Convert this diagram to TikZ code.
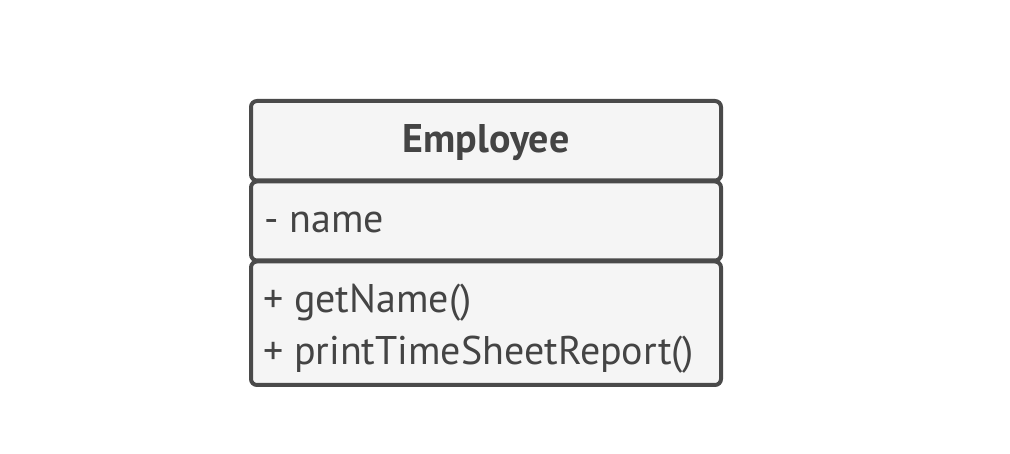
\documentclass[tikz,border=0pt]{standalone}
\usepackage{fontspec}
\setmainfont{PT Sans}
\definecolor{stroke}{HTML}{4A4A4A}
\definecolor{boxfill}{HTML}{F5F5F5}
\definecolor{txt}{HTML}{444444}
\begin{document}
\begin{tikzpicture}[x=1pt,y=-1pt,
  comp/.style={draw=stroke,fill=boxfill,line width=4pt,rounded corners=6pt},
  lbl/.style={inner sep=0pt,text=txt,font=\fontsize{40}{48}\selectfont}]
\useasboundingbox[fill=white] (0,0) rectangle (1010,454);
\draw[comp] (251,101) rectangle (721,180.5);
\draw[comp] (251,181.5) rectangle (721,260.5);
\draw[comp] (251,261.5) rectangle (721,385);
\node[lbl,anchor=base,font=\fontsize{40}{48}\selectfont\bfseries] (title) at (486,153) {Employee};
\node[lbl,anchor=base west] (attr) at (264,233) {- name};
\node[lbl,anchor=base west] (m1) at (263,313) {+ getName()};
\node[lbl,anchor=base west] (m2) at (263,365) {+ printTimeSheetReport()};
\end{tikzpicture}
\end{document}
